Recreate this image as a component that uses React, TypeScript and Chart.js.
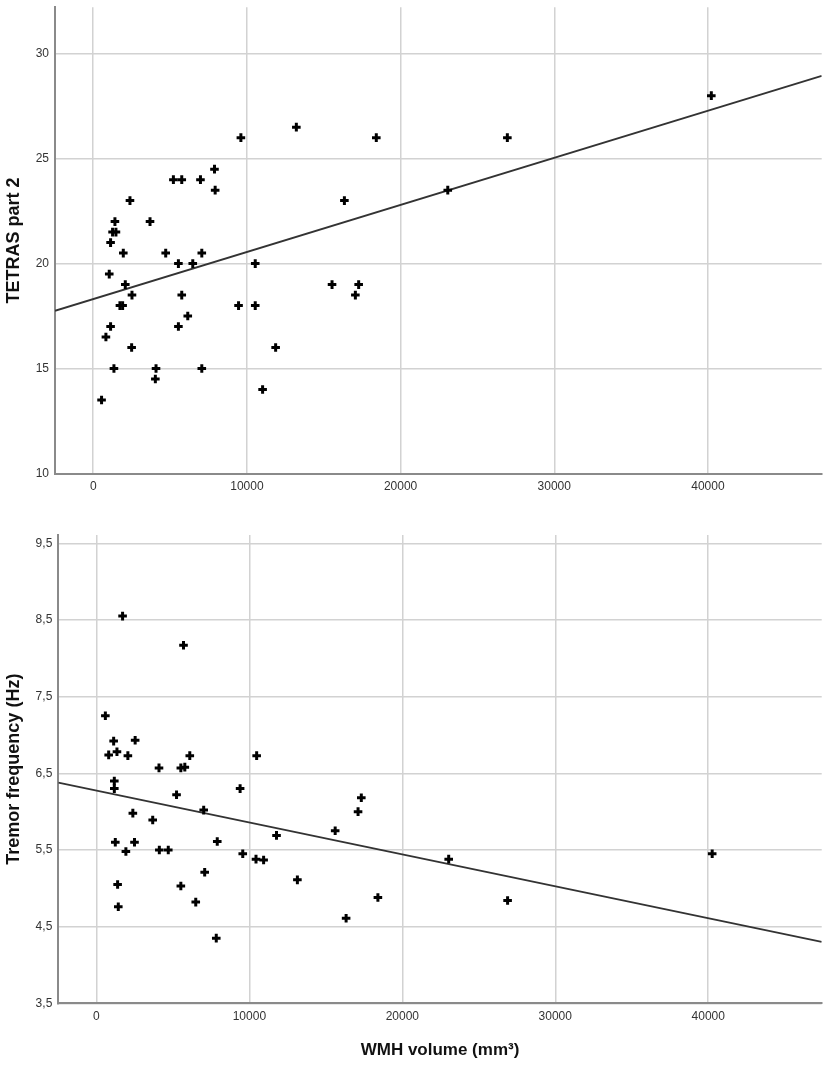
import React, { useEffect, useRef } from "react";
import { Chart, registerables } from "chart.js";
import type { ChartConfiguration } from "chart.js";

Chart.register(...registerables);

const FONT = "'Liberation Sans', Arial, Helvetica, sans-serif";

// WMH volume (mm³) against TETRAS part 2
const tetrasWmh = [
  543, 826, 1130, 1043, 1130, 1260, 1478, 1413, 1348, 1739, 1913, 1957, 2087, 2391, 2522, 2500,
  3696, 4087, 4043, 4717, 5217, 5761, 5543, 5543, 5761, 6152, 6478, 6978, 7065, 7065, 7891, 7935,
  9609, 9457, 10543, 10543, 11022, 11870, 13217, 15540, 16344, 17058, 17273, 18420, 23071, 26948, 40220,
];
const tetrasScore = [
  13.5, 16.5, 17, 19.5, 21, 21.5, 21.5, 22, 15, 18, 18, 20.5, 19, 23, 18.5, 16,
  22, 15, 14.5, 20.5, 24, 24, 20, 17, 18.5, 17.5, 20, 24, 20.5, 15, 24.5, 23.5,
  26, 18, 20, 18, 14, 16, 26.5, 19, 23, 18.5, 19, 26, 23.5, 26, 28,
];

// WMH volume (mm³) against tremor frequency (Hz)
const tremorWmh = [
  584, 801, 1126, 1342, 2056, 2532, 1710, 1169, 1169, 1234, 1926, 1385, 1429, 2381, 2489,
  3680, 4091, 4113, 4697, 5238, 5519, 5779, 5693, 6104, 5519, 7013, 7078, 6494, 7900, 7835,
  9394, 9567, 10476, 10433, 10931, 11775, 13139, 15610, 16325, 17106, 17318, 18403, 23032, 26883, 40260,
];
const tremorHz = [
  7.25, 6.74, 6.92, 6.78, 6.73, 6.93, 8.55, 6.4, 6.3, 5.6, 5.48, 5.05, 4.76, 5.98, 5.6,
  5.89, 6.57, 5.5, 5.5, 6.22, 6.57, 6.58, 8.17, 6.73, 5.03, 6.02, 5.21, 4.82, 5.61, 4.35,
  6.3, 5.45, 6.73, 5.38, 5.37, 5.69, 5.11, 5.75, 4.61, 6.0, 6.18, 4.88, 5.38, 4.84, 5.45,
];

const wmhTicks = [0, 10000, 20000, 30000, 40000];
const tetrasTicks = [10, 15, 20, 25, 30];
const tremorTicks = [3.5, 4.5, 5.5, 6.5, 7.5, 8.5, 9.5];

// fitted lines: [intercept, slope]
const tetrasFit = [18.31, 0.0002243];
const tremorFit = [6.273, -0.0000416];

type PanelProps = {
  top: number;
  height: number;
  xs: number[];
  ys: number[];
  fit: number[];
  xRange: [number, number];
  yRange: [number, number];
  yTicks: number[];
  yTitle: string;
  xTitle?: string;
  axisWidth: number;
  xScaleHeight: number;
  padding: { top: number; right: number; bottom: number; left: number };
  formatY: (v: number) => string;
};

const Panel: React.FC<PanelProps> = (p) => {
  const canvasRef = useRef<HTMLCanvasElement | null>(null);

  useEffect(() => {
    const canvas = canvasRef.current;
    if (!canvas) return;

    const [xMin, xMax] = p.xRange;
    const points = p.xs.map((x, i) => ({ x, y: p.ys[i] }));
    const line = [
      { x: xMin, y: p.fit[0] + p.fit[1] * xMin },
      { x: xMax, y: p.fit[0] + p.fit[1] * xMax },
    ];

    const grid = { color: "#d2d2d2", lineWidth: 1.5, drawTicks: false };
    const border = { color: "#8a8a8a", width: 2 };
    const tickFont = { family: FONT, size: 12 };

    const config: ChartConfiguration<"scatter"> = {
      type: "scatter",
      data: {
        datasets: [
          {
            data: line,
            showLine: true,
            borderColor: "#333333",
            borderWidth: 1.8,
            pointRadius: 0,
            order: 2,
          },
          {
            data: points,
            pointStyle: "cross",
            pointRadius: 4.3,
            borderWidth: 3,
            borderColor: "#000000",
            backgroundColor: "#000000",
            order: 1,
          },
        ],
      },
      options: {
        responsive: true,
        maintainAspectRatio: false,
        animation: false,
        layout: { padding: p.padding },
        plugins: {
          legend: { display: false },
          tooltip: { enabled: false },
        },
        scales: {
          x: {
            type: "linear",
            min: xMin,
            max: xMax,
            grid,
            border,
            afterBuildTicks: (scale: any) => {
              scale.ticks = wmhTicks.map((value) => ({ value }));
            },
            afterFit: (scale: any) => {
              scale.height = p.xScaleHeight;
              scale.paddingLeft = 0;
              scale.paddingRight = 0;
            },
            ticks: {
              color: "#333333",
              font: tickFont,
              padding: 6,
              maxRotation: 0,
              autoSkip: false,
              callback: (v: any) => String(v),
            },
            title: p.xTitle
              ? {
                  display: true,
                  text: p.xTitle,
                  color: "#111111",
                  font: { family: FONT, size: 17, weight: "bold" },
                  padding: { top: 0, bottom: 0 },
                }
              : { display: false },
          },
          y: {
            type: "linear",
            min: p.yRange[0],
            max: p.yRange[1],
            grid,
            border,
            afterBuildTicks: (scale: any) => {
              scale.ticks = p.yTicks.map((value) => ({ value }));
            },
            afterFit: (scale: any) => {
              scale.width = p.axisWidth;
              scale.paddingTop = 0;
              scale.paddingBottom = 0;
            },
            ticks: {
              color: "#333333",
              font: tickFont,
              padding: 6,
              autoSkip: false,
              callback: (v: any) => p.formatY(Number(v)),
            },
            title: {
              display: true,
              text: p.yTitle,
              color: "#111111",
              font: { family: FONT, size: 18, weight: "bold" },
              padding: { top: 3, bottom: 0 },
            },
          },
        },
      } as any,
    };

    const chart = new Chart(canvas, config);
    return () => {
      chart.destroy();
    };
  }, []);

  return (
    <div style={{ position: "absolute", left: 0, top: p.top, width: 829, height: p.height }}>
      <canvas ref={canvasRef} />
    </div>
  );
};

export default function App() {
  return (
    <div style={{ position: "absolute", left: 0, top: 0, width: 829, height: 1065, background: "#ffffff" }}>
      <Panel
        top={0}
        height={510}
        xs={tetrasWmh}
        ys={tetrasScore}
        fit={tetrasFit}
        xRange={[-2487, 47403]}
        yRange={[10, 32.21]}
        yTicks={tetrasTicks}
        yTitle="TETRAS part 2"
        axisWidth={55}
        xScaleHeight={30}
        padding={{ top: 5, right: 5.7, bottom: 6.5, left: 0 }}
        formatY={(v) => String(v)}
      />
      <Panel
        top={520}
        height={545}
        xs={tremorWmh}
        ys={tremorHz}
        fit={tremorFit}
        xRange={[-2493, 47420]}
        yRange={[3.5, 9.608]}
        yTicks={tremorTicks}
        yTitle="Tremor frequency (Hz)"
        xTitle="WMH volume (mm³)"
        axisWidth={58.3}
        xScaleHeight={57.6}
        padding={{ top: 15, right: 5.7, bottom: 4.1, left: 0 }}
        formatY={(v) => v.toFixed(1).replace(".", ",")}
      />
    </div>
  );
}
